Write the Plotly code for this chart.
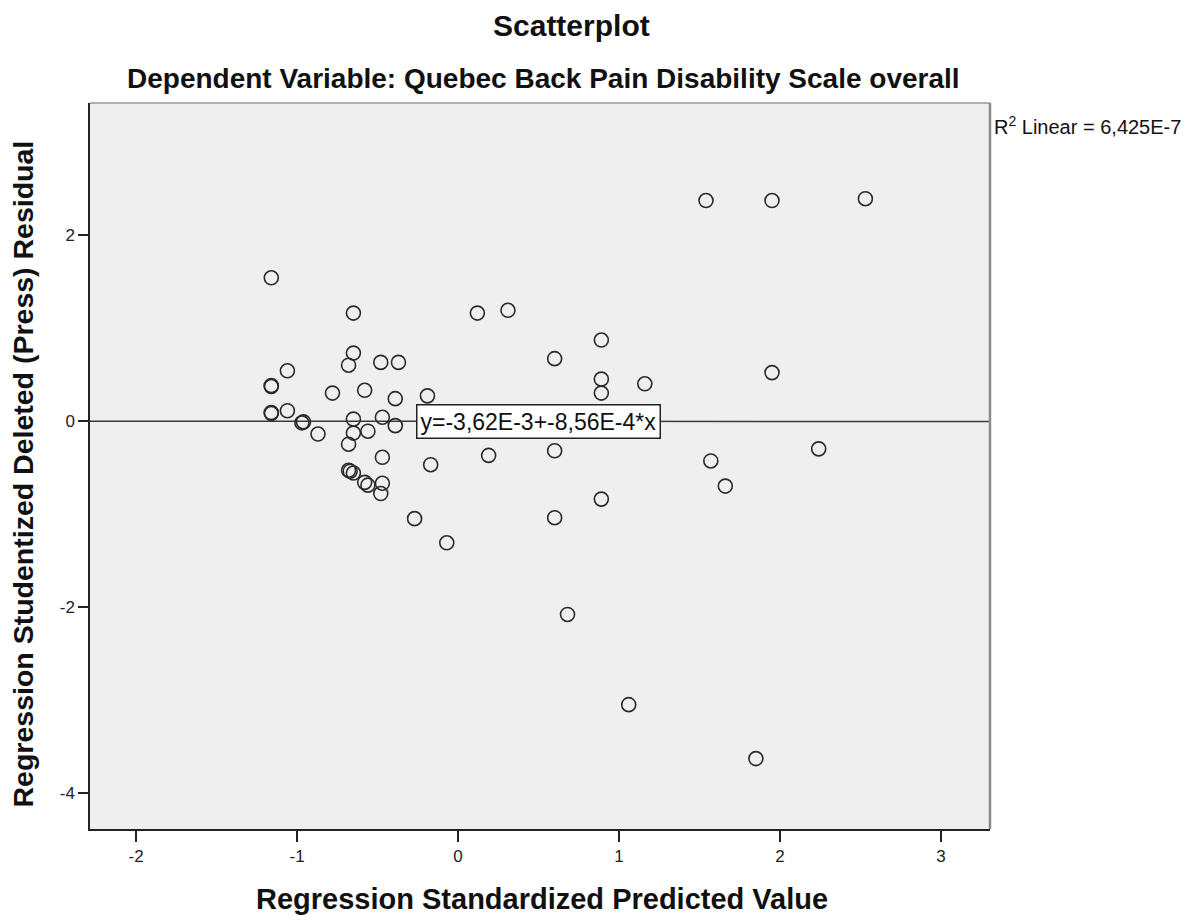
import plotly.graph_objects as go

# Standardized predicted values (x) and studentized deleted residuals (y)
predicted = [-1.16, -0.65, 0.12, 0.31, 1.54, 1.95, 2.53, 0.89, 0.60, -0.65,
             -0.68, -0.48, -0.37, -1.06, -1.16, -1.16, -0.78, -0.58, -0.39, -0.19,
             0.89, 0.89, 1.16, 1.95, -1.16, -1.16, -1.06, -0.96, -0.97, -0.65,
             -0.47, -0.39, -0.87, -0.65, -0.56, -0.68, -0.47, -0.17, 0.19, 0.60,
             -0.68, -0.67, -0.65, -0.58, -0.56, -0.47, -0.48, -0.27, 0.60, -0.07,
             0.89, 1.57, 1.66, 2.24, 0.68, 1.06, 1.85]
residual = [1.54, 1.16, 1.16, 1.19, 2.37, 2.37, 2.39, 0.87, 0.67, 0.73,
            0.60, 0.63, 0.63, 0.54, 0.38, 0.37, 0.30, 0.33, 0.24, 0.27,
            0.45, 0.30, 0.40, 0.52, 0.09, 0.08, 0.11, -0.01, -0.02, 0.02,
            0.04, -0.05, -0.14, -0.13, -0.11, -0.25, -0.39, -0.47, -0.37, -0.32,
            -0.53, -0.54, -0.56, -0.66, -0.69, -0.67, -0.78, -1.05, -1.04, -1.31,
            -0.84, -0.43, -0.70, -0.30, -2.08, -3.05, -3.63]

# Linear fit reported by the procedure
intercept = -3.62e-3
slope = -8.56e-4
fit_label = "y=-3,62E-3+-8,56E-4*x"
r2_label = "R<sup>2</sup> Linear = 6,425E-7"

title_text = "Scatterplot"
subtitle_text = "Dependent Variable: Quebec Back Pain Disability Scale overall"
x_title = "Regression Standardized Predicted Value"
y_title = "Regression Studentized Deleted (Press) Residual"

x_ticks = [-2, -1, 0, 1, 2, 3]
y_ticks = [-4, -2, 0, 2]
x_range = [-2.286, 3.304]
y_range = [-4.387, 3.419]

FONT = "Liberation Sans, Arial, sans-serif"
INK = "#111111"

fit_x = x_range
fit_y = [intercept + slope * v for v in fit_x]

fig = go.Figure()

fig.add_trace(go.Scatter(
    x=fit_x, y=fit_y, mode="lines",
    line=dict(color="#3a3a3a", width=1.5),
    hoverinfo="skip", showlegend=False,
))

fig.add_trace(go.Scatter(
    x=predicted, y=residual, mode="markers",
    marker=dict(symbol="circle-open", size=14, color="#2a2a2a",
                line=dict(width=1.6, color="#2a2a2a")),
    showlegend=False,
))

# Fit equation box sitting on the regression line
label_x = 0.5
fig.add_annotation(
    x=label_x, y=intercept + slope * label_x, xref="x", yref="y",
    text=fit_label, showarrow=False,
    font=dict(family=FONT, size=23, color=INK),
    bgcolor="white", bordercolor="#222222", borderwidth=1.5, borderpad=3,
)

# R-squared note to the right of the frame
fig.add_annotation(
    x=1.0, y=1.0, xref="paper", yref="paper", xanchor="left", yanchor="middle",
    xshift=2, yshift=-22,
    text=r2_label, showarrow=False, align="left",
    font=dict(family=FONT, size=20, color=INK),
)

# Titles
fig.add_annotation(
    x=0.535, y=1.107, xref="paper", yref="paper", xanchor="center", yanchor="middle",
    text="<b>%s</b>" % title_text, showarrow=False,
    font=dict(family=FONT, size=30, color=INK),
)
fig.add_annotation(
    x=0.504, y=1.034, xref="paper", yref="paper", xanchor="center", yanchor="middle",
    text="<b>%s</b>" % subtitle_text, showarrow=False,
    font=dict(family=FONT, size=28, color=INK),
)
fig.add_annotation(
    x=0.502, y=-0.096, xref="paper", yref="paper", xanchor="center", yanchor="middle",
    text="<b>%s</b>" % x_title, showarrow=False,
    font=dict(family=FONT, size=29, color=INK),
)
fig.add_annotation(
    x=-0.075, y=0.489, xref="paper", yref="paper", xanchor="center", yanchor="middle",
    text="<b>%s</b>" % y_title, showarrow=False, textangle=-90,
    font=dict(family=FONT, size=28.5, color=INK),
)

fig.update_layout(
    width=1192, height=920,
    margin=dict(l=90, r=202, t=103, b=91),
    paper_bgcolor="white",
    plot_bgcolor="#efefef",
    font=dict(family=FONT, color=INK),
)

fig.update_xaxes(
    range=x_range, tickvals=x_ticks, ticktext=[str(v) for v in x_ticks],
    showgrid=False, zeroline=False,
    showline=True, linecolor="#222222", linewidth=1.5, mirror=False,
    ticks="outside", ticklen=11, tickwidth=1.5, tickcolor="#222222",
    tickfont=dict(size=17, color="#222222"),
)
fig.update_yaxes(
    range=y_range, tickvals=y_ticks, ticktext=[str(v) for v in y_ticks],
    showgrid=False, zeroline=False,
    showline=True, linecolor="#222222", linewidth=1.5, mirror=False,
    ticks="outside", ticklen=10, tickwidth=1.5, tickcolor="#222222",
    tickfont=dict(size=17, color="#222222"),
)

# Lighter top and right frame edges
fig.add_shape(type="line", xref="paper", yref="paper", x0=0, x1=1, y0=1, y1=1,
              line=dict(color="#9a9a9a", width=1.5))
fig.add_shape(type="line", xref="paper", yref="paper", x0=1, x1=1, y0=0, y1=1,
              line=dict(color="#8a8a8a", width=2.5))

fig.write_html("out.html")
